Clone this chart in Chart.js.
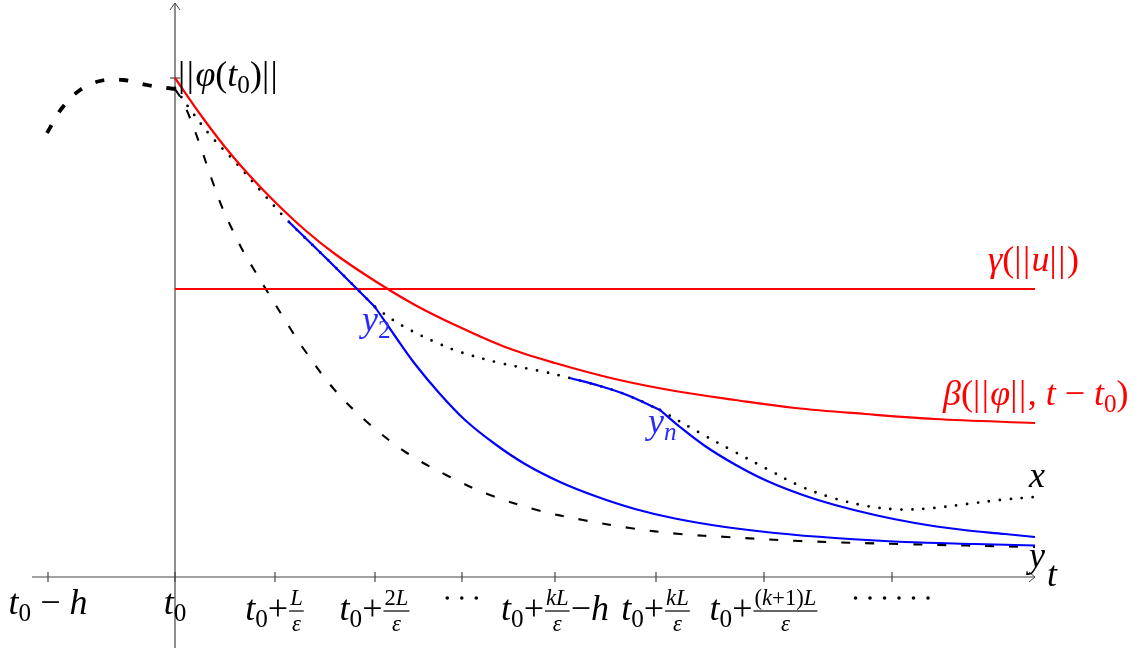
<!DOCTYPE html>
<html>
<head>
<meta charset="utf-8">
<script src="https://cdn.jsdelivr.net/npm/chart.js@4.4.0/dist/chart.umd.min.js"></script>
<style>
html, body { margin: 0; padding: 0; background: #fff; }
#wrap { width: 1144px; height: 650px; }
</style>
</head>
<body>
<div id="wrap"><canvas id="canvas"></canvas></div>
<script>
// chart units: t0 sits at x = 0, the time axis at y = 0
const betaX = [0, 0.25, 0.5, 0.75, 1.0, 1.3, 1.6, 2.0, 2.4, 2.8, 3.3, 3.8, 4.4, 5.0, 5.6, 6.2, 6.9, 7.6, 8.6];
const betaY = [4.99, 4.63, 4.30, 4.01, 3.75, 3.47, 3.23, 2.96, 2.72, 2.52, 2.30, 2.14, 1.98, 1.86, 1.77, 1.69, 1.63, 1.58, 1.54];
const gammaX = [0, 8.6];
const gammaY = [2.88, 2.88];
const histX = [-1.28, -1.13, -0.95, -0.75, -0.52, -0.28, 0];
const histY = [4.44, 4.69, 4.87, 4.96, 4.97, 4.92, 4.88];
const lowX = [0, 0.07, 0.15, 0.25, 0.37, 0.47, 0.57, 0.68, 0.78, 0.92, 1.15, 1.28, 1.58, 1.92, 2.32, 2.75, 3.15, 3.62, 4.08, 4.55, 5.05, 5.52, 6.25, 7.25, 8.6];
const lowY = [4.88, 4.77, 4.59, 4.32, 3.97, 3.70, 3.48, 3.26, 3.09, 2.86, 2.49, 2.29, 1.89, 1.55, 1.24, 1.00, 0.82, 0.67, 0.57, 0.49, 0.43, 0.40, 0.36, 0.33, 0.30];
// the solution x, in three pieces (it runs under y2 and yn where those are drawn)
const solAX = [0, 0.17, 0.35, 0.62, 0.85, 1.13, 1.55, 2.0];
const solAY = [4.89, 4.65, 4.42, 4.13, 3.87, 3.56, 3.15, 2.70];
const solBX = [2.0, 2.18, 2.35, 2.6, 2.85, 3.25, 3.65, 3.95, 4.25, 4.52, 4.85];
const solBY = [2.70, 2.57, 2.47, 2.35, 2.25, 2.14, 2.06, 1.99, 1.91, 1.82, 1.67];
const solCX = [4.85, 5.25, 5.58, 5.92, 6.25, 6.58, 6.92, 7.25, 7.58, 7.92, 8.25, 8.6];
const solCY = [1.67, 1.44, 1.26, 1.08, 0.91, 0.79, 0.71, 0.675, 0.69, 0.73, 0.77, 0.80];
const y2aX = [1.13, 1.55, 2.0];
const y2aY = [3.56, 3.15, 2.70];
const y2bX = [2.0, 2.2, 2.4, 2.65, 2.9, 3.2, 3.5, 3.85, 4.2, 4.6, 5.0, 5.5, 6.0, 6.6, 7.3, 8.0, 8.6];
const y2bY = [2.70, 2.41, 2.13, 1.83, 1.57, 1.33, 1.13, 0.95, 0.81, 0.68, 0.585, 0.50, 0.44, 0.39, 0.35, 0.33, 0.315];
const ynaX = [3.95, 4.25, 4.52, 4.85];
const ynaY = [1.99, 1.91, 1.82, 1.67];
const ynbX = [4.85, 5.05, 5.3, 5.6, 5.9, 6.25, 6.6, 7.0, 7.4, 7.85, 8.3, 8.6];
const ynbY = [1.67, 1.50, 1.31, 1.125, 0.97, 0.83, 0.72, 0.62, 0.54, 0.475, 0.43, 0.40];

const tickValues = [-1.27, 0, 1, 2, 2.87, 3.8, 4.81, 5.89, 7.17];
const tickLabels = [
  [{i: 't'}, {s: '0'}, {r: ' − '}, {i: 'h'}],
  [{i: 't'}, {s: '0'}],
  [{i: 't'}, {s: '0'}, {r: '+'}, {f: [[{i: 'L'}], [{i: 'ε'}]]}],
  [{i: 't'}, {s: '0'}, {r: '+'}, {f: [[{r: '2'}, {i: 'L'}], [{i: 'ε'}]]}],
  [{dots: 3}],
  [{i: 't'}, {s: '0'}, {r: '+'}, {f: [[{i: 'kL'}], [{i: 'ε'}]]}, {r: '−'}, {i: 'h'}],
  [{i: 't'}, {s: '0'}, {r: '+'}, {f: [[{i: 'kL'}], [{i: 'ε'}]]}],
  [{i: 't'}, {s: '0'}, {r: '+'}, {f: [[{r: '('}, {i: 'k'}, {r: '+1)'}, {i: 'L'}], [{i: 'ε'}]]}],
  [{dots: 6}]
];

// free labels, anchored at their left baseline in chart units
const noteX = [0.03, 8.13, 7.68, 1.87, 4.73, 8.54, 8.54, 8.72];
const noteY = [4.91, 3.06, 1.72, 2.46, 1.44, 0.90, 0.10, -0.09];
const noteColor = ['#000', '#ff0000', '#ff0000', '#2a2aff', '#2a2aff', '#000', '#000', '#000'];
const noteText = [
  [{r: '|'}, {r: '|'}, {i: 'φ'}, {r: '('}, {i: 't'}, {s: '0'}, {r: ')'}, {r: '|'}, {r: '|'}],
  [{i: 'γ'}, {r: '('}, {r: '|'}, {r: '|'}, {i: 'u'}, {r: '|'}, {r: '|'}, {r: ')'}],
  [{i: 'β'}, {r: '('}, {r: '|'}, {r: '|'}, {i: 'φ'}, {r: '|'}, {r: '|'}, {r: ', '}, {i: 't'}, {r: ' − '}, {i: 't'}, {s: '0'}, {r: ')'}],
  [{i: 'y'}, {s: '2'}],
  [{i: 'y'}, {si: 'n'}],
  [{i: 'x'}],
  [{i: 'y'}],
  [{i: 't'}]
];

const MAIN = 36;
const axisColor = '#444';

function setFont(ctx, size, italic) {
  ctx.font = (italic ? 'italic ' : '') + size + 'px "Liberation Serif", serif';
}
function tokenText(tk) {
  return tk.i || tk.r || tk.s || tk.si;
}
function tokenWidth(ctx, tk, size) {
  if (tk.f) {
    const fs = size * 0.63;
    return Math.max(rowWidth(ctx, tk.f[0], fs), rowWidth(ctx, tk.f[1], fs)) + 4;
  }
  if (tk.dots) return tk.dots * 14.5;
  const sub = tk.s || tk.si;
  setFont(ctx, sub ? size * 0.7 : size, !!(tk.i || tk.si));
  const w = ctx.measureText(tokenText(tk)).width;
  return tk.r === '|' ? w + 1.5 : w;
}
function rowWidth(ctx, row, size) {
  return row.reduce((w, tk) => w + tokenWidth(ctx, tk, size), 0);
}
function drawRow(ctx, row, x, y, size) {
  for (const tk of row) {
    const w = tokenWidth(ctx, tk, size);
    if (tk.f) {
      const fs = size * 0.63;
      const nw = rowWidth(ctx, tk.f[0], fs);
      const dw = rowWidth(ctx, tk.f[1], fs);
      const axis = y - size * 0.25;
      drawRow(ctx, tk.f[0], x + (w - nw) / 2, axis - size * 0.16, fs);
      drawRow(ctx, tk.f[1], x + (w - dw) / 2, axis + size * 0.55, fs);
      ctx.fillRect(x + 1, axis - 0.6, w - 2, 1.2);
    } else if (tk.dots) {
      for (let k = 0; k < tk.dots; k++) {
        ctx.beginPath();
        ctx.arc(x + 7 + k * 14.5, y - 16, 1.8, 0, Math.PI * 2);
        ctx.fill();
      }
    } else {
      const sub = tk.s || tk.si;
      setFont(ctx, sub ? size * 0.7 : size, !!(tk.i || tk.si));
      ctx.fillText(tokenText(tk), x, sub ? y + size * 0.2 : y);
    }
    x += w;
  }
}

const mathLabels = {
  id: 'mathLabels',
  afterDatasetsDraw(chart) {
    const ctx = chart.ctx;
    const sx = chart.scales.x;
    const sy = chart.scales.y;
    ctx.save();
    ctx.textBaseline = 'alphabetic';
    ctx.fillStyle = '#000';
    tickValues.forEach((v, i) => {
      const row = tickLabels[i];
      const w = rowWidth(ctx, row, MAIN);
      const frac = row.some(tk => tk.f);
      drawRow(ctx, row, sx.getPixelForValue(v) - w / 2, sy.getPixelForValue(0) + (frac ? 43 : 37), MAIN);
    });
    noteText.forEach((row, i) => {
      ctx.fillStyle = noteColor[i];
      drawRow(ctx, row, sx.getPixelForValue(noteX[i]), sy.getPixelForValue(noteY[i]), MAIN);
    });
    ctx.restore();
  }
};

const pts = (xs, ys) => xs.map((x, i) => ({x: x, y: ys[i]}));

function curve(xs, ys, color, width, dash, order) {
  return {
    data: pts(xs, ys),
    borderColor: color,
    borderWidth: width,
    borderDash: dash || [],
    borderCapStyle: dash && dash[0] < 1 ? 'round' : 'butt',
    tension: 0.35,
    fill: false,
    order: order
  };
}

window.onload = function() {
  const ctx = document.getElementById('canvas').getContext('2d');
  new Chart(ctx, {
    type: 'line',
    data: {
      datasets: [
        curve(y2aX, y2aY, '#0000ff', 2.2, null, 1),
        curve(y2bX, y2bY, '#0000ff', 2.2, null, 1),
        curve(ynaX, ynaY, '#0000ff', 2.2, null, 1),
        curve(ynbX, ynbY, '#0000ff', 2.2, null, 1),
        curve(betaX, betaY, '#ff0000', 2.2, null, 2),
        curve(gammaX, gammaY, '#ff0000', 2.2, null, 2),
        curve(solAX, solAY, '#000', 2.8, [0, 11], 3),
        curve(solBX, solBY, '#000', 2.8, [0, 11], 3),
        curve(solCX, solCY, '#000', 2.8, [0, 11], 3),
        curve(lowX, lowY, '#000', 2.1, [9, 15], 4),
        curve(histX, histY, '#000', 3.8, [9, 15], 4),
        // axes and arrow heads
        curve([-1.43, 8.6], [0, 0], axisColor, 1.2, null, 5),
        curve([0, 0], [-0.71, 5.74], axisColor, 1.2, null, 5),
        {data: [{x: 8.54, y: 0.05}, {x: 8.6, y: 0}, {x: 8.54, y: -0.05}], borderColor: axisColor, borderWidth: 1, order: 5},
        {data: [{x: -0.05, y: 5.67}, {x: 0, y: 5.74}, {x: 0.05, y: 5.67}], borderColor: axisColor, borderWidth: 1, order: 5},
        {
          data: tickValues.map(v => ({x: v, y: 0})),
          showLine: false,
          pointStyle: 'line',
          pointRotation: 90,
          pointRadius: 5,
          pointBorderColor: axisColor,
          pointBorderWidth: 1.2,
          order: 5
        },
        {
          data: [{x: 0, y: betaY[0]}],
          showLine: false,
          pointStyle: 'line',
          pointRadius: 5,
          pointBorderColor: axisColor,
          pointBorderWidth: 1.2,
          order: 5
        }
      ]
    },
    options: {
      responsive: true,
      maintainAspectRatio: false,
      animation: false,
      layout: {padding: 0, autoPadding: false},
      elements: {point: {radius: 0, hoverRadius: 0}},
      plugins: {legend: {display: false}, tooltip: {enabled: false}},
      scales: {
        x: {type: 'linear', display: false, min: -1.75, max: 9.69},
        y: {type: 'linear', display: false, min: -0.73, max: 5.77}
      }
    },
    plugins: [mathLabels]
  });
};
</script>
</body>
</html>
